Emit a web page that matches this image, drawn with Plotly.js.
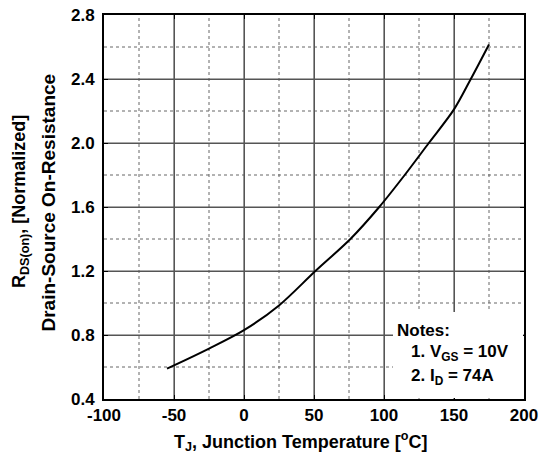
<!DOCTYPE html>
<html>
<head>
<meta charset="utf-8">
<script src="https://cdn.plot.ly/plotly-3.0.1.min.js"></script>
<style>html,body{margin:0;padding:0;background:#fff;}#chart{width:549px;height:456px;}</style>
</head>
<body>
<div id="chart"></div>
<script>
// Junction temperature (°C)
var temperature = [-55, -50, -25, 0, 25, 51, 76, 96.6, 114.8, 132, 150, 162, 175];
// Normalized drain-source on-resistance
var rdsOn = [0.59, 0.61, 0.715, 0.83, 0.985, 1.2, 1.4, 1.6, 1.8, 2.0, 2.21, 2.4, 2.616];

var xTicks = [-100, -50, 0, 50, 100, 150, 200];
var xTickText = ['-100', '-50', '0', '50', '100', '150', '200'];
var xMinorTicks = [-75, -25, 25, 75, 125, 175];
var yTicks = [0.4, 0.8, 1.2, 1.6, 2.0, 2.4, 2.8];
var yTickText = ['0.4', '0.8', '1.2', '1.6', '2.0', '2.4', '2.8'];
var yMinorTicks = [0.6, 1.0, 1.4, 1.8, 2.2, 2.6];
var xTitle = 'T<sub>J</sub>, Junction Temperature [<sup>o</sup>C]';
var yTitleLines = ['R<sub>DS(on)</sub>, [Normalized]', 'Drain-Source On-Resistance'];
var notes = ['Notes:', '1. V<sub>GS</sub> = 10V', '2. I<sub>D</sub> = 74A'];

var fontFam = 'Arial, "Liberation Sans", Helvetica, sans-serif';
var xRange = [-100, 200], yRange = [0.4, 2.8];

var L = 104, T = 15, W = 420, H = 384;

var curve = {
  x: temperature, y: rdsOn, type: 'scatter', mode: 'lines',
  line: {color: '#000', width: 2, shape: 'spline', smoothing: 0.9},
  hoverinfo: 'skip'
};

var axisCommon = {
  showline: true, linecolor: '#000', linewidth: 2, mirror: 'allticks',
  ticks: 'inside', ticklen: 4, tickwidth: 1, tickcolor: '#000',
  showgrid: true, gridcolor: '#555', gridwidth: 1,
  zeroline: false, tickmode: 'array',
  tickfont: {family: fontFam, size: 17, color: '#000', weight: 'bold'}
};

function txt(size) {
  return {family: fontFam, size: size, weight: 'bold', color: '#000'};
}
function px(p) { return (p - L) / W; }
function py(p) { return (T + H - p) / H; }

// grid lines placed on the axes' scales from the tick arrays
function vLines(vals, style) {
  return vals.map(function (v) {
    return {type: 'line', layer: 'below', xref: 'x', yref: 'paper', x0: v, x1: v, y0: 0, y1: 1, line: style};
  });
}
function hLines(vals, style) {
  return vals.map(function (v) {
    return {type: 'line', layer: 'below', xref: 'paper', yref: 'y', x0: 0, x1: 1, y0: v, y1: v, line: style};
  });
}
var dotted = {color: '#666', width: 1, dash: 'dot'};
var solid = {color: '#555', width: 1.2, dash: 'solid'};
var gridShapes = vLines(xMinorTicks, dotted).concat(hLines(yMinorTicks, dotted))
  .concat(vLines(xTicks.slice(1, -1), solid)).concat(hLines(yTicks.slice(1, -1), solid));

var layout = {
  width: 549, height: 456,
  margin: {l: L, r: 549 - L - W, t: T, b: 456 - T - H},
  paper_bgcolor: '#fff', plot_bgcolor: '#fff',
  showlegend: false,
  font: {family: fontFam, color: '#000'},
  xaxis: Object.assign({}, axisCommon, {range: xRange, tickvals: xTicks, ticktext: xTickText}),
  yaxis: Object.assign({}, axisCommon, {range: yRange, tickvals: yTicks, ticktext: yTickText, ticklabelstandoff: 4}),
  shapes: gridShapes,
  annotations: [
    // white panel behind the notes
    {text: ' ', xref: 'paper', yref: 'paper', x: 1, y: 0, xanchor: 'right', yanchor: 'bottom', xshift: -1.5, yshift: 1.5,
     width: 130, height: 86, bgcolor: '#fff', borderwidth: 0, borderpad: 0, showarrow: false, font: txt(10)},
    {text: xTitle, xref: 'paper', yref: 'paper', x: px(300), y: py(441), xanchor: 'center', yanchor: 'middle', showarrow: false, font: txt(18)},
    {text: yTitleLines[0], xref: 'paper', yref: 'paper', x: px(20), y: py(202), xanchor: 'center', yanchor: 'middle', textangle: -90, showarrow: false, font: txt(18)},
    {text: yTitleLines[1], xref: 'paper', yref: 'paper', x: px(48), y: py(202.5), xanchor: 'center', yanchor: 'middle', textangle: -90, showarrow: false, font: txt(19)},
    {text: notes[0], xref: 'x', yref: 'y', x: 108, y: 0.83, xanchor: 'left', yanchor: 'middle', showarrow: false, font: txt(17)},
    {text: notes[1], xref: 'x', yref: 'y', x: 118, y: 0.69, xanchor: 'left', yanchor: 'middle', showarrow: false, font: txt(17)},
    {text: notes[2], xref: 'x', yref: 'y', x: 118, y: 0.535, xanchor: 'left', yanchor: 'middle', showarrow: false, font: txt(17)}
  ]
};

Plotly.newPlot('chart', [curve], layout, {staticPlot: true, displayModeBar: false});
</script>
</body>
</html>
